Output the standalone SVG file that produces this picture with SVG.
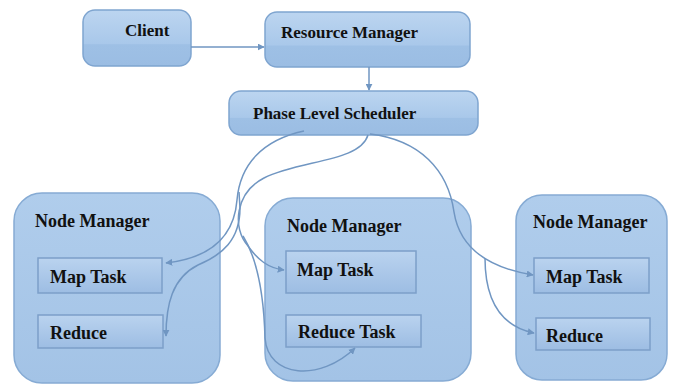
<svg xmlns="http://www.w3.org/2000/svg" width="674" height="385" viewBox="0 0 674 385">
<defs>
<linearGradient id="gTop" x1="0" y1="0" x2="0" y2="1">
<stop offset="0" stop-color="#bcd5f0"/>
<stop offset="0.6" stop-color="#a9c8ea"/>
<stop offset="0.62" stop-color="#9ec0e5"/>
<stop offset="1" stop-color="#9bbde3"/>
</linearGradient>
<linearGradient id="gNM" x1="0" y1="0" x2="0" y2="1">
<stop offset="0" stop-color="#b0cdec"/>
<stop offset="1" stop-color="#a3c3e6"/>
</linearGradient>
<linearGradient id="gIn" x1="0" y1="0" x2="0" y2="1">
<stop offset="0" stop-color="#bad3ef"/>
<stop offset="1" stop-color="#9dbde3"/>
</linearGradient>
<marker id="arr" viewBox="0 0 10 10" refX="9" refY="5" markerWidth="7" markerHeight="7" orient="auto" markerUnits="userSpaceOnUse">
<path d="M0,0 L10,5 L0,10 z" fill="#7096c2"/>
</marker>
</defs>
<style>
.top{fill:url(#gTop);stroke:#7fa5d0;stroke-width:1.5}
.nm{fill:url(#gNM);stroke:#86abd4;stroke-width:1.5}
.in{fill:url(#gIn);stroke:#7c9fc9;stroke-width:1.5}
text{font-family:"Liberation Serif","Times New Roman",serif;font-weight:bold;fill:#111;font-size:18px}
.t17{font-size:17px}
.con{fill:none;stroke:#7096c2;stroke-width:1.5}
</style>
<rect width="674" height="385" fill="#ffffff"/>

<g id="client">
<rect class="top" x="83" y="10" width="108" height="56" rx="12"/>
<text class="t17" x="125" y="36">Client</text>
</g>
<g id="resource-manager">
<rect class="top" x="265" y="12" width="205" height="55" rx="12"/>
<text class="t17" x="281" y="38">Resource Manager</text>
</g>
<g id="phase-level-scheduler">
<rect class="top" x="229" y="91" width="249" height="44" rx="12"/>
<text class="t17" x="253" y="119">Phase Level Scheduler</text>
</g>

<g id="node-manager-1">
<rect class="nm" x="14" y="193" width="206" height="190" rx="28"/>
<text x="35" y="227">Node Manager</text>
<g id="nm1-map">
<rect class="in" x="38" y="258" width="124" height="35"/>
<text x="50" y="283">Map Task</text>
</g>
<g id="nm1-reduce">
<rect class="in" x="38" y="315" width="125" height="33"/>
<text x="50" y="339">Reduce</text>
</g>
</g>

<g id="node-manager-2">
<rect class="nm" x="265" y="198" width="206" height="183" rx="28"/>
<text x="287" y="232">Node Manager</text>
<g id="nm2-map">
<rect class="in" x="286" y="251" width="130" height="42"/>
<text x="297" y="276">Map Task</text>
</g>
<g id="nm2-reduce">
<rect class="in" x="286" y="315" width="135" height="32"/>
<text x="298" y="338">Reduce Task</text>
</g>
</g>

<g id="node-manager-3">
<rect class="nm" x="516" y="195" width="151" height="185" rx="26"/>
<text x="533" y="228">Node Manager</text>
<g id="nm3-map">
<rect class="in" x="534" y="258" width="115" height="35"/>
<text x="546" y="283">Map Task</text>
</g>
<g id="nm3-reduce">
<rect class="in" x="536" y="318" width="114" height="32"/>
<text x="546" y="342">Reduce</text>
</g>
</g>

<g id="connectors">
<path class="con" d="M191,47 L264,47" marker-end="url(#arr)"/>
<path class="con" d="M369,67 L369,90" marker-end="url(#arr)"/>
<path class="con" d="M304,131 C262,140 240,165 237,200 C234,238 210,258 166,263" marker-end="url(#arr)"/>
<path class="con" d="M239,192 L240,208 C240,240 222,255 198,265 C172,278 166,305 166,336" marker-end="url(#arr)"/>
<path class="con" d="M368,135 C360,162 300,160 264,178 C235,193 232,228 248,246 C258,260 268,268 284,270" marker-end="url(#arr)"/>
<path class="con" d="M243,236 C258,260 264,300 265,338 C268,378 320,382 355,348" marker-end="url(#arr)"/>
<path class="con" d="M370,134 C420,140 448,170 454,212 C460,250 490,268 533,275" marker-end="url(#arr)"/>
<path class="con" d="M485,258 C485,300 500,326 534,333" marker-end="url(#arr)"/>
</g>
</svg>
